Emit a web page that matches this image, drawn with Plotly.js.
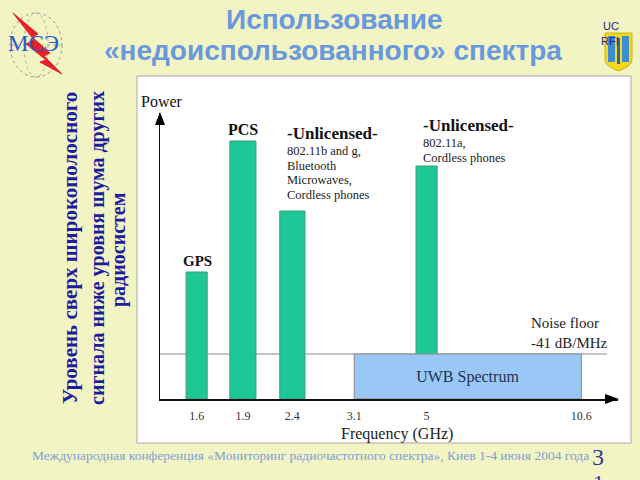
<!DOCTYPE html>
<html>
<head>
<meta charset="utf-8">
<script src="https://cdn.plot.ly/plotly-3.0.1.min.js"></script>
<style>html,body{margin:0;padding:0;background:#f3f4c3;}#chart{width:640px;height:480px;}</style>
</head>
<body>
<div id="chart"></div>
<script>
// ---- data ----
const freqLabels = ['1.6', '1.9', '2.4', '3.1', '5', '10.6'];
// schematic (non-linear) axis slots used by the source figure for each frequency
const freqSlot = [0.8, 1.81, 2.89, 4.24, 5.82, 9.2];
const bandNames = ['GPS', 'PCS', 'Unlicensed 2.4 GHz', 'Unlicensed 5 GHz'];
const bandFreq = ['1.6', '1.9', '2.4', '5'];
const bandPower = [127, 258, 188, 233];     // relative power (arbitrary units)
const noiseFloor = 45;                       // -41 dB/MHz level, same units
const uwbFrom = '3.1';
const uwbTo = '10.6';
const noiseLineEnd = 9.76;

// ---- helpers ----
const W = 640, H = 480;
const X = p => p / W;
const Y = p => 1 - p / H;
const slotOf = f => freqSlot[freqLabels.indexOf(f)];

const barWidths = [0.46, 0.57, 0.55, 0.46];
const green = '#1ec896';
const serif = 'Liberation Serif, Times New Roman, serif';
const sans = 'Liberation Sans, Arial, sans-serif';

const bars = {
  type: 'bar',
  x: bandFreq.map(slotOf),
  y: bandPower,
  width: barWidths,
  name: 'bands',
  text: bandNames,
  textposition: 'none',
  marker: {color: green, line: {color: '#3a9a7a', width: 1}},
  hoverinfo: 'text+y'
};
const uwb = {
  type: 'bar',
  x: [(slotOf(uwbFrom) + slotOf(uwbTo)) / 2],
  y: [noiseFloor],
  width: [slotOf(uwbTo) - slotOf(uwbFrom)],
  text: ['UWB Spectrum'],
  textposition: 'inside',
  insidetextanchor: 'middle',
  textangle: 0,
  textfont: {family: serif, size: 16, color: '#233050'},
  marker: {color: '#9ac8f6', line: {color: '#8a8a8a', width: 1}},
  hoverinfo: 'text'
};

const ann = [];
function txt(t, x, y, size, opts) {
  ann.push(Object.assign({text: t, x: X(x), y: Y(y), xref: 'paper', yref: 'paper',
    showarrow: false, xanchor: 'center', yanchor: 'middle',
    font: {family: serif, size: size, color: '#111'}}, opts || {}));
}
// title
const tcol = '#6898de';
txt('<b>Использование</b>', 334, 20, 28, {font: {family: sans, size: 28, color: tcol}});
txt('<b>«недоиспользованного» спектра</b>', 333, 51, 28, {font: {family: sans, size: 28, color: tcol}});
// left logo text
txt('МСЭ', 33, 43, 23, {font: {family: serif, size: 23, color: '#2a5ad0'}});
// right logo text
txt('UC', 611, 26, 11, {font: {family: sans, size: 11, color: '#22227a'}});
txt('RFI', 610, 41, 11, {font: {family: sans, size: 11, color: '#22227a'}});
// vertical text
const vblue = '#1c1ca0';
txt('<b>Уровень сверх широкополосного</b>', 70, 248, 21, {textangle: -90, font: {family: serif, size: 21, color: vblue}});
txt('<b>сигнала ниже уровня шума других</b>', 97, 248, 20, {textangle: -90, font: {family: serif, size: 20, color: vblue}});
txt('<b>радиосистем</b>', 118, 250, 20, {textangle: -90, font: {family: serif, size: 20, color: vblue}});
// chart labels
txt('Power', 162, 101, 16);
txt('<b>GPS</b>', 197, 261, 15);
txt('<b>PCS</b>', 243, 129, 16);
txt('<b>-Unlicensed-</b>', 285, 133, 17, {xanchor: 'left'});
const l1 = ['802.11b and g,', 'Bluetooth', 'Microwaves,', 'Cordless phones'];
l1.forEach((s, i) => txt(s, 285, 151 + i * 14.7, 12.5, {xanchor: 'left', font: {family: serif, size: 12.5, color: '#222'}}));
txt('<b>-Unlicensed-</b>', 421, 125, 17, {xanchor: 'left'});
['802.11a,', 'Cordless phones'].forEach((s, i) => txt(s, 421, 143 + i * 14.7, 12.5, {xanchor: 'left', font: {family: serif, size: 12.5, color: '#222'}}));
txt('Noise floor', 529, 323, 15, {xanchor: 'left', font: {family: serif, size: 15, color: '#222'}});
txt('-41 dB/MHz', 529, 343, 15, {xanchor: 'left', font: {family: serif, size: 15, color: '#222'}});
txt('Frequency (GHz)', 397, 434, 16, {font: {family: serif, size: 16, color: '#222'}});
// footer
txt('Международная конференция «Мониторинг радиочастотного спектра», Киев 1-4 июня 2004 года', 30, 455, 13.5,
    {xanchor: 'left', font: {family: serif, size: 13.5, color: '#7f9ed8'}});
txt('3', 598, 457, 24, {font: {family: serif, size: 24, color: '#2a3a9a'}});
txt('1', 598, 482, 22, {font: {family: serif, size: 22, color: '#2a3a9a'}});

const shapes = [
  // white panel
  {type: 'rect', xref: 'paper', yref: 'paper', x0: X(137), x1: X(631), y0: Y(443), y1: Y(76),
   fillcolor: '#ffffff', line: {color: '#a8a8a8', width: 1}, layer: 'below'},
  // noise floor line
  {type: 'line', xref: 'x', yref: 'y', x0: 0, x1: noiseLineEnd, y0: noiseFloor, y1: noiseFloor,
   line: {color: '#8a8a8a', width: 1}, layer: 'below'},
  // axis arrow heads
  {type: 'path', xref: 'paper', yref: 'paper',
   path: `M ${X(605)} ${Y(394)} L ${X(619)} ${Y(399)} L ${X(605)} ${Y(404)} Z`, fillcolor: '#000', line: {width: 0}},
  {type: 'path', xref: 'paper', yref: 'paper',
   path: `M ${X(155)} ${Y(125)} L ${X(160)} ${Y(112)} L ${X(165)} ${Y(125)} Z`, fillcolor: '#000', line: {width: 0}},
  // left logo: globe
  {type: 'circle', xref: 'paper', yref: 'paper', x0: X(10), x1: X(62), y0: Y(77), y1: Y(13),
   line: {color: '#999', width: 1, dash: 'dot'}},
  {type: 'circle', xref: 'paper', yref: 'paper', x0: X(24), x1: X(48), y0: Y(77), y1: Y(13),
   line: {color: '#aaa', width: 1, dash: 'dot'}},
  {type: 'line', xref: 'paper', yref: 'paper', x0: X(11), x1: X(61), y0: Y(45), y1: Y(45),
   line: {color: '#aaa', width: 1, dash: 'dot'}},
  {type: 'path', xref: 'paper', yref: 'paper',
   path: `M ${X(13)} ${Y(13)} L ${X(34)} ${Y(40)} L ${X(26)} ${Y(44)} L ${X(46)} ${Y(60)} L ${X(40)} ${Y(62)} L ${X(62)} ${Y(74)} L ${X(44)} ${Y(56)} L ${X(50)} ${Y(53)} L ${X(32)} ${Y(37)} L ${X(38)} ${Y(34)} Z`,
   fillcolor: '#e8202a', line: {color: '#e8202a', width: 1}},
  // right logo: shield
  {type: 'path', xref: 'paper', yref: 'paper',
   path: `M ${X(605)} ${Y(33)} L ${X(632)} ${Y(33)} L ${X(632)} ${Y(60)} Q ${X(632)} ${Y(66)} ${X(618.5)} ${Y(71)} Q ${X(605)} ${Y(66)} ${X(605)} ${Y(60)} Z`,
   fillcolor: '#f4d81c', line: {color: '#c8b020', width: 1}},
  {type: 'rect', xref: 'paper', yref: 'paper', x0: X(608), x1: X(615), y0: Y(62), y1: Y(36), fillcolor: '#3d8ed0', line: {width: 0}},
  {type: 'rect', xref: 'paper', yref: 'paper', x0: X(622), x1: X(629), y0: Y(62), y1: Y(36), fillcolor: '#3d8ed0', line: {width: 0}},
  {type: 'rect', xref: 'paper', yref: 'paper', x0: X(617), x1: X(620), y0: Y(64), y1: Y(38), fillcolor: '#2a6aa8', line: {width: 0}}
];

const layout = {
  width: W, height: H,
  margin: {l: 0, r: 0, t: 0, b: 0},
  paper_bgcolor: '#f3f4c3',
  plot_bgcolor: 'rgba(0,0,0,0)',
  showlegend: false,
  barmode: 'overlay',
  bargap: 0,
  xaxis: {
    domain: [X(160), X(618)],
    range: [0, 10],
    showgrid: false, zeroline: false,
    showline: true, linecolor: '#111', linewidth: 1.5,
    tickmode: 'array', tickvals: freqLabels.map(slotOf), ticktext: freqLabels,
    ticks: '', ticklabelstandoff: 5,
    tickfont: {family: serif, size: 12, color: '#333'},
    fixedrange: true
  },
  yaxis: {
    domain: [Y(399), Y(113)],
    range: [0, 286],
    showgrid: false, zeroline: false,
    showline: true, linecolor: '#111', linewidth: 1.5,
    showticklabels: false, ticks: '',
    fixedrange: true
  },
  annotations: ann,
  shapes: shapes
};

Plotly.newPlot('chart', [bars, uwb], layout, {displayModeBar: false, staticPlot: true});
</script>
</body>
</html>
